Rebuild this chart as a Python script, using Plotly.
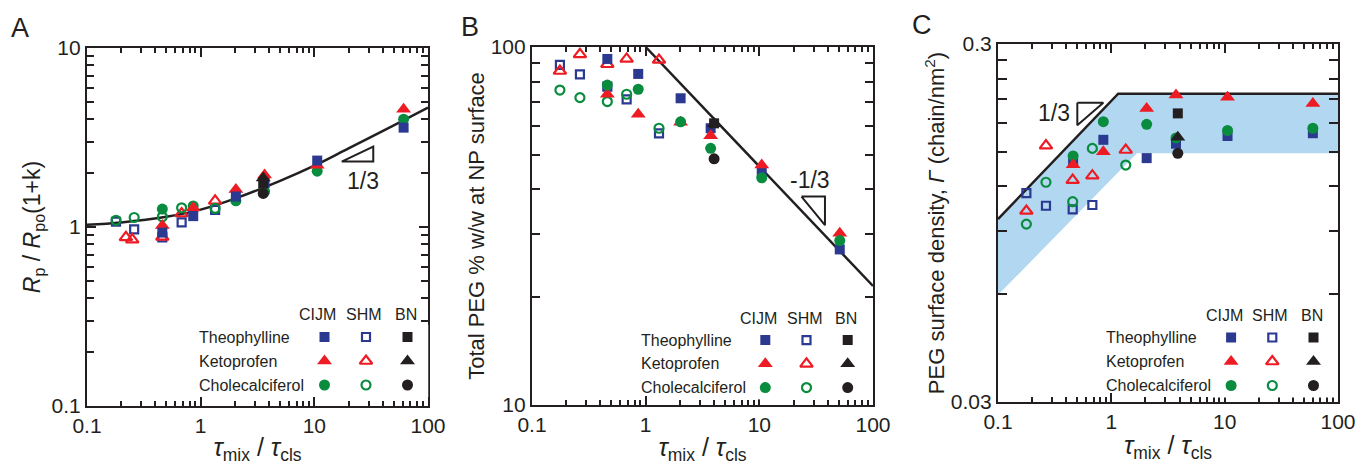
import math
import plotly.graph_objects as go

# ---------------- data ----------------
methods = ["CIJM", "SHM", "BN"]
drugs = ["Theophylline", "Ketoprofen", "Cholecalciferol"]

# Panel A : Rp/Rpo(1+k)
A_x_cijm = [0.46, 0.86, 2.04, 3.65, 10.6, 61]
A_theo_cijm = [0.93, 1.15, 1.48, 1.76, 2.35, 3.59]
A_keto_cijm = [1.02, 1.28, 1.62, 1.95, 2.21, 4.55]
A_chol_cijm = [1.26, 1.31, 1.40, 1.58, 2.05, 4.0]
A_x_shm = [0.18, 0.26, 0.46, 0.68, 1.34]
A_x_keto_shm = [0.22, 0.25, 0.46, 0.68, 1.34]
A_theo_shm = [1.07, 0.97, 0.875, 1.06, 1.245]
A_keto_shm = [0.875, 0.85, 0.88, 1.19, 1.40]
A_chol_shm = [1.09, 1.13, 1.14, 1.28, 1.27]
A_x_bn = [3.55]
A_theo_bn = [1.75]
A_keto_bn = [1.88]
A_chol_bn = [1.54]
A_fit_x = [0.1, 0.2, 0.5, 1, 2, 5, 10, 20, 50, 100]
A_fit_y = [1.03, 1.06, 1.14, 1.25, 1.44, 1.81, 2.2, 2.75, 3.7, 4.65]
A_tri_x = [17.4, 33.0, 33.0, 17.4]
A_tri_y = [2.32, 2.32, 2.81, 2.32]
A_slope_label = ("1/3", 26.8, 1.81)

# Panel B : Total PEG % w/w at NP surface
B_x_cijm = [0.46, 0.86, 2.03, 3.73, 10.5, 51]
B_theo_cijm = [92.6, 84.1, 71.9, 59.3, 44.8, 27.2]
B_keto_cijm = [73.8, 64.9, 61.6, 56.5, 46.8, 30.2]
B_chol_cijm = [78.3, 76.2, 61.8, 52.1, 43.1, 28.8]
B_x_shm = [0.176, 0.264, 0.46, 0.68, 1.31]
B_theo_shm = [89.1, 83.9, 77.5, 71.4, 57.4]
B_keto_shm = [85.7, 95.4, 89.5, 92.6, 92.0]
B_chol_shm = [75.8, 72.2, 70.4, 73.8, 59.3]
B_x_bn = [4.0]
B_theo_bn = [61.2]
B_keto_bn = [61.0]
B_chol_bn = [48.7]
B_fit_x = [1.0, 100]
B_fit_y = [100, 21.5]
B_tri_x = [23.5, 37.8, 37.8, 23.5]
B_tri_y = [38.2, 38.2, 31.8, 38.2]
B_slope_label = ("-1/3", 27.9, 42.5)

# Panel C : PEG surface density
C_x_cijm = [0.46, 0.85, 2.05, 3.72, 10.6, 60]
C_theo_cijm = [0.140, 0.162, 0.144, 0.158, 0.166, 0.169]
C_keto_cijm = [0.138, 0.150, 0.198, 0.216, 0.213, 0.2045]
C_chol_cijm = [0.146, 0.182, 0.179, 0.164, 0.172, 0.1745]
C_x_shm = [0.178, 0.265, 0.456, 0.68, 1.34]
C_theo_shm = [0.115, 0.106, 0.1036, 0.1065, None]
C_keto_shm = [0.1025, 0.156, 0.125, 0.1286, 0.1517]
C_chol_shm = [0.0942, 0.1233, 0.1088, 0.1533, 0.1377]
C_x_bn = [3.86]
C_theo_bn = [0.192]
C_keto_bn = [0.1646]
C_chol_bn = [0.1485]
C_fit_x = [0.1, 1.15, 100]
C_fit_y = [0.0973, 0.218, 0.218]
C_band_low_x = [0.1, 1.68, 100]
C_band_low_y = [0.0597, 0.1485, 0.1485]
C_tri_x = [0.501, 0.85, 0.501, 0.501]
C_tri_y = [0.2056, 0.2056, 0.178, 0.2056]
C_slope_label = ("1/3", 0.312, 0.192)

x_tickvals = [0.1, 1, 10, 100]
x_ticktext = ["0.1", "1", "10", "100"]
A_y_tickvals = [0.1, 1, 10]
A_y_ticktext = ["0.1", "1", "10"]
B_y_tickvals = [10, 100]
B_y_ticktext = ["10", "100"]
C_y_tickvals = [0.03, 0.3]
C_y_ticktext = ["0.03", "0.3"]
C_y_minor = [0.06, 0.09, 0.12, 0.15, 0.18, 0.21, 0.24, 0.27]

# ---------------- style ----------------
W, H = 1364, 465
BLUE = "#2B3990"
RED = "#ED1C24"
GREEN = "#0A8C3F"
BLACK = "#231F20"
BAND = "#B2D8F1"
FONT = "Liberation Sans, Arial, sans-serif"

colors = {"Theophylline": BLUE, "Ketoprofen": RED, "Cholecalciferol": GREEN}
symbols = {"Theophylline": "square", "Ketoprofen": "triangle-up", "Cholecalciferol": "circle"}
fsize = {"square": 10, "triangle-up": 13, "circle": 11}
osize = {"square": 8, "triangle-up": 11, "circle": 9}


def marker_style(drug, method):
    s = symbols[drug]
    if method == "SHM":
        return dict(symbol=s + "-open", size=osize[s], color=colors[drug],
                    line=dict(width=2.2, color=colors[drug]))
    c = BLACK if method == "BN" else colors[drug]
    return dict(symbol=s, size=fsize[s], color=c, line=dict(width=0))


fig = go.Figure()


def pts(x, y, drug, method, ax):
    fig.add_trace(go.Scatter(x=x, y=y, mode="markers", xaxis="x" + ax, yaxis="y" + ax,
                             marker=marker_style(drug, method), showlegend=False,
                             hoverinfo="skip", cliponaxis=False))


def line(x, y, ax, width=2.5):
    fig.add_trace(go.Scatter(x=x, y=y, mode="lines", xaxis="x" + ax, yaxis="y" + ax,
                             line=dict(color=BLACK, width=width), showlegend=False,
                             hoverinfo="skip"))


# Panel C band (drawn first)
fig.add_trace(go.Scatter(x=C_fit_x + C_band_low_x[::-1], y=C_fit_y + C_band_low_y[::-1],
                         mode="lines", fill="toself", fillcolor=BAND, line=dict(width=0),
                         xaxis="x3", yaxis="y3", showlegend=False, hoverinfo="skip"))

# fit lines
fig.add_trace(go.Scatter(x=A_fit_x, y=A_fit_y, mode="lines", line=dict(color=BLACK, width=2.5, shape="spline"),
                         xaxis="x", yaxis="y", showlegend=False, hoverinfo="skip"))
line(B_fit_x, B_fit_y, "2")
line(C_fit_x, C_fit_y, "3")
# slope triangles
fig.add_trace(go.Scatter(x=A_tri_x, y=A_tri_y, mode="lines", line=dict(color=BLACK, width=2),
                         xaxis="x", yaxis="y", showlegend=False, hoverinfo="skip"))
line(B_tri_x, B_tri_y, "2", 2)
line(C_tri_x, C_tri_y, "3", 2)

# data points: SHM, then CIJM, then BN
pts(A_x_shm, A_theo_shm, "Theophylline", "SHM", "")
pts(A_x_keto_shm, A_keto_shm, "Ketoprofen", "SHM", "")
pts(A_x_shm, A_chol_shm, "Cholecalciferol", "SHM", "")
pts(A_x_cijm, A_chol_cijm, "Cholecalciferol", "CIJM", "")
pts(A_x_cijm, A_keto_cijm, "Ketoprofen", "CIJM", "")
pts(A_x_cijm, A_theo_cijm, "Theophylline", "CIJM", "")
pts(A_x_bn, A_chol_bn, "Cholecalciferol", "BN", "")
pts(A_x_bn, A_keto_bn, "Ketoprofen", "BN", "")
pts(A_x_bn, A_theo_bn, "Theophylline", "BN", "")

pts(B_x_shm, B_theo_shm, "Theophylline", "SHM", "2")
pts(B_x_shm, B_keto_shm, "Ketoprofen", "SHM", "2")
pts(B_x_shm, B_chol_shm, "Cholecalciferol", "SHM", "2")
pts(B_x_cijm, B_theo_cijm, "Theophylline", "CIJM", "2")
pts(B_x_cijm, B_keto_cijm, "Ketoprofen", "CIJM", "2")
pts(B_x_cijm, B_chol_cijm, "Cholecalciferol", "CIJM", "2")
pts(B_x_bn, B_chol_bn, "Cholecalciferol", "BN", "2")
pts(B_x_bn, B_keto_bn, "Ketoprofen", "BN", "2")
pts(B_x_bn, B_theo_bn, "Theophylline", "BN", "2")

pts(C_x_shm, C_theo_shm, "Theophylline", "SHM", "3")
pts(C_x_shm, C_keto_shm, "Ketoprofen", "SHM", "3")
pts(C_x_shm, C_chol_shm, "Cholecalciferol", "SHM", "3")
pts(C_x_cijm, C_theo_cijm, "Theophylline", "CIJM", "3")
pts(C_x_cijm, C_chol_cijm, "Cholecalciferol", "CIJM", "3")
pts(C_x_cijm, C_keto_cijm, "Ketoprofen", "CIJM", "3")
pts(C_x_bn, C_chol_bn, "Cholecalciferol", "BN", "3")
pts(C_x_bn, C_theo_bn, "Theophylline", "BN", "3")
pts(C_x_bn, C_keto_bn, "Ketoprofen", "BN", "3")

# ---------------- key grids (linear axes, index positions of categories) ----------------
key_axes = ["4", "5", "6"]
for ax in key_axes:
    for j, d in enumerate(drugs):
        for i, m in enumerate(methods):
            fig.add_trace(go.Scatter(x=[i], y=[j], mode="markers", xaxis="x" + ax, yaxis="y" + ax,
                                     marker=marker_style(d, m), showlegend=False, hoverinfo="skip"))

# ---------------- layout ----------------
def px_x(a, b):
    return [a / W, b / W]


def px_y(top, bottom):
    return [1 - bottom / H, 1 - top / H]


minor_x = [k * 10 ** e for e in (-1, 0, 1) for k in range(2, 10)]
minor_yA = [k * 10 ** e for e in (-1, 0) for k in range(2, 10)]
minor_yB = [k * 10 for k in range(2, 10)]

tickfont = dict(family=FONT, size=21, color=BLACK)
title_x = dict(text="<i>τ</i><sub>mix</sub> / <i>τ</i><sub>cls</sub>",
               font=dict(family=FONT, size=25, color=BLACK), standoff=4)


def axis_base(**kw):
    d = dict(type="log", showline=True, linewidth=2.2, linecolor=BLACK, mirror="allticks",
             ticks="inside", ticklen=9, tickwidth=2, tickcolor=BLACK, showgrid=False,
             zeroline=False, tickfont=tickfont, tickmode="array", automargin=False)
    d.update(kw)
    return d


def xaxis(domain, anchor):
    return axis_base(domain=domain, anchor=anchor, range=[-1, 2], tickvals=x_tickvals,
                     ticktext=x_ticktext, title=title_x,
                     minor=dict(tickmode="array", tickvals=minor_x, ticks="inside", ticklen=5,
                                tickwidth=2, tickcolor=BLACK, showgrid=False))


fig.update_layout(
    width=W, height=H, margin=dict(l=0, r=0, t=0, b=0, autoexpand=False),
    paper_bgcolor="white", plot_bgcolor="white", showlegend=False,
    font=dict(family=FONT, color=BLACK),
    xaxis=xaxis(px_x(87, 428), "y"),
    yaxis=axis_base(domain=px_y(48, 406), anchor="x", range=[-1, 1], tickvals=A_y_tickvals,
                    ticktext=A_y_ticktext,
                    title=dict(text="<i>R</i><sub>p</sub> / <i>R</i><sub>po</sub>(1+k)",
                               font=dict(family=FONT, size=23, color=BLACK), standoff=4),
                    minor=dict(tickmode="array", tickvals=minor_yA, ticks="inside", ticklen=7,
                               tickwidth=2, tickcolor=BLACK, showgrid=False)),
    xaxis2=xaxis(px_x(532, 873), "y2"),
    yaxis2=axis_base(domain=px_y(47, 405), anchor="x2", range=[1, 2], tickvals=B_y_tickvals,
                     ticktext=B_y_ticktext,
                     title=dict(text="Total PEG % w/w at NP surface",
                                font=dict(family=FONT, size=22, color=BLACK), standoff=0),
                     minor=dict(tickmode="array", tickvals=minor_yB, ticks="inside", ticklen=8,
                                tickwidth=2, tickcolor=BLACK, showgrid=False)),
    xaxis3=xaxis(px_x(998, 1338), "y3"),
    yaxis3=axis_base(domain=px_y(44, 402), anchor="x3",
                     range=[math.log10(0.03), math.log10(0.3)], tickvals=C_y_tickvals,
                     ticktext=C_y_ticktext,
                     title=dict(text="PEG surface density, <i>Γ</i> (chain/nm<sup>2</sup>)",
                                font=dict(family=FONT, size=22, color=BLACK), standoff=0),
                     minor=dict(tickmode="array", tickvals=C_y_minor, ticks="inside", ticklen=9,
                                tickwidth=2, tickcolor=BLACK, showgrid=False)),
)

# key grid boxes in pixels: (left, right, top, bottom, text_left)
key_boxes = {
    "4": (303.75, 428.25, 325.0, 397.0, 197),
    "5": (744.7, 868.3, 328.2, 399.4, 639),
    "6": (1210.5, 1334.1, 325.5, 397.5, 1104),
}
header_shift = [-7, -2, -2]
hidden_axis = dict(visible=False, showticklabels=False, showline=False, ticks="", showgrid=False,
                   zeroline=False, fixedrange=True, automargin=False, tickmode="array",
                   tickvals=[], ticktext=[])
annotations = []
for ax, (l, r, t, b, text_left) in key_boxes.items():
    fig.update_layout({
        "xaxis" + ax: dict(domain=px_x(l, r), anchor="y" + ax, type="linear",
                           range=[-0.5, len(methods) - 0.5], **hidden_axis),
        "yaxis" + ax: dict(domain=px_y(t, b), anchor="x" + ax, type="linear",
                           range=[len(drugs) - 0.5, -0.5], **hidden_axis),
    })
    col_w = (r - l) / len(methods)
    row_h = (b - t) / len(drugs)
    header_y = t - 0.14 * (b - t)
    for i, (m, sh) in enumerate(zip(methods, header_shift)):
        cx = l + col_w * (i + 0.5) + sh
        annotations.append(dict(x=cx / W, y=1 - header_y / H, xref="paper", yref="paper", text=m,
                                showarrow=False, xanchor="center", yanchor="middle",
                                font=dict(family=FONT, size=16, color=BLACK)))
    for j, d in enumerate(drugs):
        cy = t + row_h * (j + 0.5)
        annotations.append(dict(x=text_left / W, y=1 - cy / H, xref="paper", yref="paper", text=d,
                                showarrow=False, xanchor="left", yanchor="middle",
                                font=dict(family=FONT, size=16, color=BLACK)))

# slope labels
for lab, ax in ((A_slope_label, ""), (B_slope_label, "2"), (C_slope_label, "3")):
    annotations.append(dict(x=math.log10(lab[1]), y=math.log10(lab[2]), xref="x" + ax, yref="y" + ax,
                            text=lab[0], showarrow=False, xanchor="center", yanchor="middle",
                            font=dict(family=FONT, size=23, color=BLACK)))

# panel letters
for letter, x, y in (("A", 20, 28), ("B", 469.5, 27), ("C", 922.5, 25)):
    annotations.append(dict(x=x / W, y=1 - y / H, xref="paper", yref="paper", text=letter,
                            showarrow=False, xanchor="center", yanchor="middle",
                            font=dict(family=FONT, size=27, color=BLACK)))

fig.update_layout(annotations=annotations)

fig.write_html("out.html")
